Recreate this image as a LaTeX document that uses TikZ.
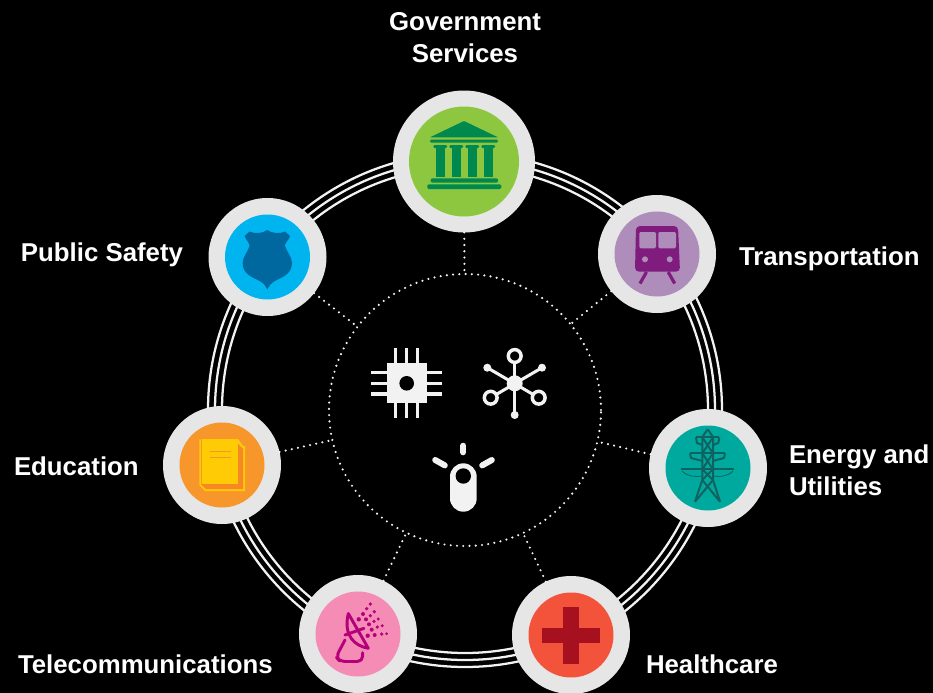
\documentclass[tikz,border=0pt]{standalone}
\usepackage{fontspec}
\setmainfont{Liberation Sans}
\definecolor{ringgray}{HTML}{E6E6E6}
\definecolor{offwhite}{HTML}{F2F2F2}
\definecolor{govlight}{HTML}{8DC63F}
\definecolor{govdark}{HTML}{00894F}
\definecolor{trainlight}{HTML}{AF8DBB}
\definecolor{traindark}{HTML}{7F1C7D}
\definecolor{safelight}{HTML}{00B5EF}
\definecolor{safedark}{HTML}{00689F}
\definecolor{edulight}{HTML}{F7962A}
\definecolor{edudark}{HTML}{FFCB05}
\definecolor{telelight}{HTML}{F48CB6}
\definecolor{teledark}{HTML}{B6007A}
\definecolor{heallight}{HTML}{F2533A}
\definecolor{healdark}{HTML}{A6101F}
\definecolor{powerlight}{HTML}{00A99D}
\definecolor{powerdark}{HTML}{0F6260}
\tikzset{
	hubsmall/.style={circle,fill=ringgray,inner sep=0pt,outer sep=0pt,minimum size=88.5pt},
	hubbig/.style={circle,fill=ringgray,inner sep=0pt,outer sep=0pt,minimum size=106.5pt},
	innerdots/.style={circle,draw=offwhite,line width=1.8pt,dash pattern=on 0pt off 4.7pt,line cap=round,inner sep=0pt,outer sep=0pt,minimum size=204pt},
	spoke/.style={draw=offwhite,line width=1.8pt,dash pattern=on 0pt off 4.7pt,line cap=round},
	ringline/.style={draw=offwhite,line width=1.7pt},
	label/.style={text=white,font=\fontsize{19.35pt}{24pt}\selectfont\bfseries,inner sep=0pt,outer sep=0pt},
	pin/.style={draw=offwhite,line width=2.3pt},
	ray/.style={draw=offwhite,line width=4.5pt,line cap=round},
	rail/.style={draw=traindark,line width=2.4pt},
	brace/.style={draw=powerdark,line width=1.5pt,line join=round},
	wire/.style={draw=powerdark,line width=0.6pt},
	dish/.style={draw=teledark,line width=2.2pt,line join=round,line cap=round,fill=none},
	sprayed/.style={fill=teledark},
}
\begin{document}
\begin{tikzpicture}[x=0.75pt,y=-0.75pt,line join=round]
	\useasboundingbox (0,0) rectangle (933,693);
	\fill[black] (0,0) rectangle (933,693);
	\coordinate (mid) at (465,410);
	
	%rings
	\draw[ringline] (mid) circle (243);
	\draw[ringline] (mid) circle (250);
	\draw[ringline] (mid) circle (257);
	\node[innerdots] (inner) at (mid) {};
	
	%hubs
	\node[hubbig] (gov) at (464,161.5) {};
	\node[hubsmall] (train) at (657,254) {};
	\node[hubsmall] (power) at (708,468) {};
	\node[hubsmall] (heal) at (571,635) {};
	\node[hubsmall] (tele) at (358,634) {};
	\node[hubsmall] (edu) at (222,465) {};
	\node[hubsmall] (safe) at (267.5,257) {};
	
	\draw[spoke] (gov)--(inner);
	\draw[spoke] (train)--(inner);
	\draw[spoke] (power)--(inner);
	\draw[spoke] (heal)--(inner);
	\draw[spoke] (tele)--(inner);
	\draw[spoke] (edu)--(inner);
	\draw[spoke] (safe)--(inner);
	
	\fill[govlight] (gov) circle (55);
	\fill[trainlight] (train) circle (42.5);
	\fill[powerlight] (power) circle (42.5);
	\fill[heallight] (heal) circle (42.5);
	\fill[telelight] (tele) circle (42.5);
	\fill[edulight] (edu) circle (42.5);
	\fill[safelight] (safe) circle (42.5);
	
	%government
	\fill[govdark,rounded corners=0.5pt] (464,121)--(498,137.3)--(430,137.3)--cycle;
	\fill[govdark,rounded corners=1pt] (430,139.5) rectangle (498,142.7);
	\fill[govdark,rounded corners=1pt] (433.3,145) rectangle (447.3,148);
	\fill[govdark,rounded corners=1pt] (449.3,145) rectangle (463.3,148);
	\fill[govdark,rounded corners=1pt] (465.3,145) rectangle (479.3,148);
	\fill[govdark,rounded corners=1pt] (481.3,145) rectangle (495.3,148);
	\fill[govdark] (435.7,148) rectangle (445,177);
	\fill[govdark] (451.7,148) rectangle (461,177);
	\fill[govdark] (467.7,148) rectangle (477,177);
	\fill[govdark] (483.7,148) rectangle (493,177);
	\fill[govdark,rounded corners=1pt] (430.7,178.3) rectangle (498,182.7);
	\fill[govdark,rounded corners=1pt] (427.3,184.3) rectangle (501.3,189);
	
	%train
	\fill[traindark,rounded corners=3pt] (636,226)--(678,226)--(680,271.7)--(635,271.7)--cycle;
	\fill[trainlight,rounded corners=1pt] (639.3,232) rectangle (656,248.3);
	\fill[trainlight,rounded corners=1pt] (658.3,232) rectangle (676,248.3);
	\fill[trainlight] (645,259.3) circle (3);
	\fill[trainlight] (669.7,259.3) circle (3);
	\draw[rail] (646.5,272)--(640,283.5);
	\draw[rail] (668.2,272)--(674.7,283.5);
	
	%shield
	\fill[safedark] (267.3,230) .. controls (272,233.5) and (280,234) .. (285,231.5)--(290,236) .. controls (288,241) and (285,243) .. (285,246) .. controls (287,252) and (292,257) .. (292,263) .. controls (292,275) and (280,278) .. (275,281) .. controls (271,283) and (269,286) .. (267.3,289.5) .. controls (265.6,286) and (263.6,283) .. (259.6,281) .. controls (254.6,278) and (242.6,275) .. (242.6,263) .. controls (242.6,257) and (247.6,252) .. (249.6,246) .. controls (249.6,243) and (246.6,241) .. (244.6,236)--(249.6,231.5) .. controls (254.6,234) and (262.6,233.5) .. (267.3,230)--cycle;
	
	%books
	\fill[edudark] (199.3,439.3)--(238.3,439.3)--(243,446)--(245,446)--(245,491)--(205,491)--(199.3,485)--cycle;
	\fill[edulight!90!red] (238.3,444)--(243,449)--(243,489)--(206,489)--(201.5,484.5)--cycle;
	\fill[edudark] (202,439.3) rectangle (238.3,484);
	\draw[edulight,line width=0.5pt] (201.7,439.3)--(201.7,484.5);
	\draw[edulight,line width=0.8pt] (210,451.7)--(231,451.7);
	\draw[edulight,line width=0.8pt] (210,457.3)--(231,457.3);
	
	%cross
	\fill[healdark] (563.3,606.7) rectangle (579,664);
	\fill[healdark] (542.3,627.7) rectangle (600,643);
	
	%dish
	\draw[dish] (348.3,613.5)--(368.3,648.3) .. controls (355,646) and (343,636) .. (348.3,613.5)--cycle;
	\draw[dish] (345,635)--(364,628.3);
	\draw[dish,rounded corners=4pt] (345,640)--(336,657)--(340,661.5)--(362.7,661.5)--(362.7,652.7);
	\fill[sprayed] (370.3,604) circle (1.8);
	\fill[sprayed] (366.7,608.7) circle (1.8);
	\fill[sprayed] (374.3,611.7) circle (1.8);
	\fill[sprayed] (363,614) circle (2);
	\fill[sprayed] (370.3,615.7) circle (1.8);
	\fill[sprayed] (378.3,619) circle (1.6);
	\fill[sprayed] (358.7,619.3) circle (2.2);
	\fill[sprayed] (366,619.3) circle (2);
	\fill[sprayed] (374,621.3) circle (1.8);
	\fill[sprayed] (382.3,625.7) circle (1.6);
	\fill[sprayed] (369,624.3) circle (2);
	\fill[sprayed] (377.3,627) circle (1.8);
	\fill[sprayed] (371.7,629.7) circle (2);
	\fill[sprayed] (386.7,633.7) circle (1.5);
	\fill[sprayed] (381.7,634) circle (1.8);
	\fill[sprayed] (374.7,635) circle (2);
	\fill[sprayed] (367.7,635.7) circle (2.2);
	
	%tower
	\draw[brace] (707.7,429.3)--(702.3,437)--(702.3,480)--(695,501.7);
	\draw[brace] (707.7,429.3)--(713,437)--(713,480)--(720,501.7);
	\draw[brace] (696,437.3)--(719.3,437.3);
	\draw[brace] (690,453.3)--(725,453.3);
	\draw[brace] (680.7,469.3)--(734,469.3);
	\draw[brace] (696,437.3)--(697,443)--(702.3,445);
	\draw[brace] (719.3,437.3)--(718.3,443)--(713,445);
	\draw[brace] (690,453.3)--(691,458)--(702.3,461);
	\draw[brace] (725,453.3)--(724,458)--(713,461);
	\draw[brace] (702.3,437.3)--(713,453.3)--(702.3,469.3)--(713,480)--(695,501.7);
	\draw[brace] (713,437.3)--(702.3,453.3)--(713,469.3)--(702.3,480)--(720,501.7);
	\draw[wire] (682,471) .. controls (688,477) and (696,477) .. (702.3,476);
	\draw[wire] (733,471) .. controls (727,477) and (719,477) .. (713,476);
	
	%chip
	\draw[pin] (395.7,348.3)--(395.7,418.3);
	\draw[pin] (406.7,348.3)--(406.7,418.3);
	\draw[pin] (417.7,348.3)--(417.7,418.3);
	\draw[pin] (371.3,372.7)--(442,372.7);
	\draw[pin] (371.3,383.3)--(442,383.3);
	\draw[pin] (371.3,394)--(442,394);
	\fill[offwhite] (386.7,363.3) rectangle (426.7,403.3);
	\fill[black] (406.7,383.3) circle (7.3);
	
	%network
	\draw[pin] (514.7,356)--(514.7,415);
	\draw[pin] (487.3,367.7)--(538.7,397.7);
	\draw[pin] (542,367.7)--(490.7,397.7);
	\fill[offwhite] (514.7,383.3) circle (8);
	\fill[offwhite] (514.7,415) circle (4);
	\fill[offwhite] (487.3,367.7) circle (4);
	\fill[offwhite] (542,367.7) circle (4);
	\draw[offwhite,fill=black,line width=2.6pt] (514.7,356) circle (6.4);
	\draw[offwhite,fill=black,line width=2.6pt] (490.7,397.7) circle (6.4);
	\draw[offwhite,fill=black,line width=2.6pt] (538.7,397.7) circle (6.4);
	
	%bulb
	\fill[offwhite,rounded corners=10pt] (450,463.3) rectangle (476.7,511.7);
	\fill[black] (463.3,476) circle (7.7);
	\draw[ray] (463.3,445.7)--(463.3,452.3);
	\draw[ray] (435.2,460)--(444.8,465.4);
	\draw[ray] (491.8,460)--(482.2,465.4);
	
	%labels
	\node[label,align=center] (lblgov) at (465,38) {Government\\Services};
	\node[label,anchor=west] (lbltrain) at (739,259) {Transportation};
	\node[label,anchor=west,align=left] (lblpower) at (789,470) {Energy and\\Utilities};
	\node[label,anchor=west] (lblheal) at (646,664) {Healthcare};
	\node[label,anchor=west] (lbltele) at (18,664) {Telecommunications};
	\node[label,anchor=west] (lbledu) at (14,466) {Education};
	\node[label,anchor=west] (lblsafe) at (21,255) {Public Safety};
\end{tikzpicture}
\end{document}
